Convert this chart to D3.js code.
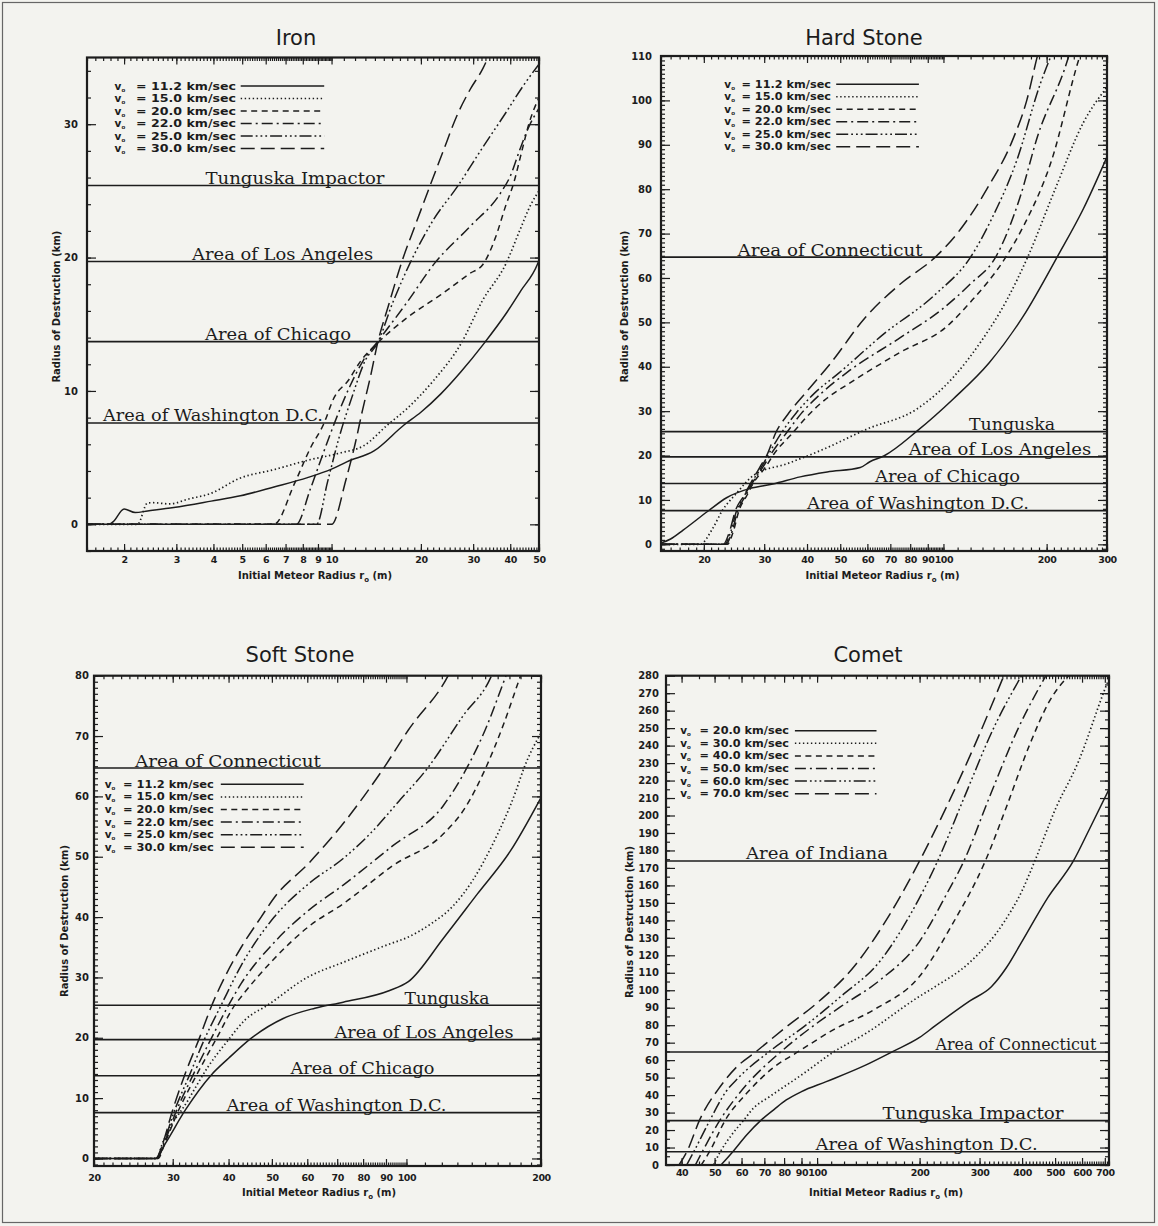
<!DOCTYPE html>
<html><head><meta charset="utf-8">
<script src="https://cdn.jsdelivr.net/npm/d3@7"></script>
<style>body{margin:0;background:#f3f3ef}svg{display:block}</style>
</head><body><svg id="c" width="1158" height="1226"></svg>
<script>
// ---------------- DATA ----------------
const stoneLegend = ["11.2","15.0","20.0","22.0","25.0","30.0"];
const cometLegend = ["20.0","30.0","40.0","50.0","60.0","70.0"];

const refTunguska = 25.4, refLosAngeles = 19.7, refChicago = 13.7, refWashington = 7.6, refConnecticut = 64.7, refIndiana = 174;

const ironRefNames = ["Tunguska Impactor","Area of Los Angeles","Area of Chicago","Area of Washington D.C."];
const ironRefValues = [refTunguska, refLosAngeles, refChicago, refWashington];
const hardRefNames = ["Area of Connecticut","Tunguska","Area of Los Angeles","Area of Chicago","Area of Washington D.C."];
const hardRefValues = [refConnecticut, refTunguska, refLosAngeles, refChicago, refWashington];
const softRefNames = hardRefNames;
const softRefValues = hardRefValues;
const cometRefNames = ["Area of Indiana","Area of Connecticut","Tunguska Impactor","Area of Washington D.C."];
const cometRefValues = [refIndiana, refConnecticut, refTunguska, refWashington];

const ironXTicks = [2,3,4,5,6,7,8,9,10,20,30,40,50];
const ironYTicks = [0,10,20,30];
const hardXTicks = [20,30,40,50,60,70,80,90,100,200,300];
const hardYTicks = [0,10,20,30,40,50,60,70,80,90,100,110];
const softXTicks = [20,30,40,50,60,70,80,90,100,200];
const softYTicks = [0,10,20,30,40,50,60,70,80];
const cometXTicks = [40,50,60,70,80,90,100,200,300,400,500,600,700];
const cometYTicks = [0,10,20,30,40,50,60,70,80,90,100,110,120,130,140,150,160,170,180,190,200,210,220,230,240,250,260,270,280];

// Iron  [initial radius m, destruction radius km]
const iron112 = [[1.5,0],[1.78,0],[1.84,0.2],[2.0,1.15],[2.18,0.88],[2.4,1.0],[2.94,1.26],[3.93,1.74],[4.93,2.14],[6.4,2.8],[8.3,3.5],[10,4.14],[11.3,4.7],[13.9,5.5],[17.5,7.43],[20,8.4],[23.3,9.76],[27.2,11.4],[32.6,13.55],[39,15.9],[43.4,17.5],[49.4,19.5],[50,19.8]];
const iron150 = [[1.5,0],[2.22,0],[2.4,1.6],[2.5,1.62],[2.85,1.53],[3.3,1.9],[3.9,2.3],[4.9,3.45],[6.4,4.1],[8.3,4.8],[10.7,5.35],[12.85,5.9],[15.4,7.43],[18,8.7],[22.1,10.8],[27.3,13.55],[32.3,16.8],[38.7,19.55],[43,22],[47,24],[50,25]];
const iron200 = [[1.5,0],[6.4,0],[7.5,3.05],[8.5,5.75],[9.4,7.5],[10.2,9.5],[11.4,10.8],[12.5,12.2],[14.3,13.6],[18,15.5],[23.3,17.2],[29.2,18.8],[32.4,19.5],[35.8,21.6],[38.5,23.8],[41.1,25.6],[43.9,28.1],[46.2,30],[50,32]];
const iron220 = [[1.5,0],[7.6,0],[8.5,2.7],[9.4,5.4],[10.4,8],[11.5,10.3],[12.8,12.3],[14.3,13.7],[17.9,16.6],[22.3,19.6],[29.2,22.3],[37,24.8],[40,26.1],[43.1,28.1],[46.2,29.8],[50,31.2]];
const iron250 = [[1.5,0],[8.9,0],[9.7,3.2],[10.6,6.5],[11.7,9.5],[13,12.3],[14.3,13.6],[16,16.5],[18.4,19.6],[22,22.8],[26.5,25.3],[32.4,28.3],[38.5,30.8],[44,32.8],[50,34.5]];
const iron300 = [[1.5,0],[10,0],[11.2,3.4],[12,6],[12.7,8.5],[13.5,11],[14.3,13.6],[15.6,16.5],[17.2,19.6],[19.2,22.5],[21.4,25.3],[23.8,28],[26.4,30.6],[29.3,32.6],[32.4,34.2],[34,35.2]];

// Hard stone
const hard112 = [[15,0.3],[16,1.2],[17.4,3.2],[20.5,7.4],[23.3,10.5],[27.3,12.6],[31.8,13.6],[38.2,15.2],[45.8,16.3],[57.2,17.3],[61,18.6],[67,19.9],[84,25.6],[107,32.8],[136,40.9],[171,51.4],[216,65.1],[256,75.6],[300,87.3]];
const hard150 = [[15,0],[19.5,0],[21.2,3.5],[22.6,7.5],[24.9,11.5],[28,15.6],[35.1,18.2],[44.3,21.3],[60,26],[83.3,30.4],[107,37.7],[129,45.8],[152,54.6],[177,65.1],[211,79.7],[256,95],[300,103]];
const hard200 = [[15,0],[23.4,0],[24.4,3],[25.3,7.5],[26.7,11],[28,14],[30.2,17.3],[32,20.3],[36.5,25.3],[40,28.8],[45,32.5],[52.7,36.1],[75,43.3],[102,49],[120,54.6],[152,64.7],[171,71.6],[206,86.1],[250,110],[255,112]];
const hard220 = [[15,0],[23.2,0],[24.2,3],[25.1,7.5],[26.5,11],[27.8,14],[29.8,17.5],[31.5,20.5],[35,25.3],[38.5,29.5],[44,34],[52.7,38.9],[75,46.6],[99.3,53],[120,58.7],[142,64.7],[167,78],[188,91.8],[232,110],[236,112]];
const hard250 = [[15,0],[23,0],[24,3],[24.9,7.5],[26.3,11],[27.6,14],[29.5,17.5],[31,20.5],[33.8,25.3],[37.2,29.6],[42,34],[49.4,38.5],[67,47.4],[94.7,56.3],[120,64.7],[138,73.2],[163,86.1],[192,103.9],[211,112]];
const hard300 = [[15,0],[22.8,0],[23.8,3],[24.7,7.5],[26.2,11],[27.5,14],[29.2,17.5],[30.5,20],[32.5,25.3],[35.1,29.2],[40,34.5],[47,40.9],[59,51],[75,58.7],[94.7,64.7],[111.7,70.8],[135,80.5],[159,91],[175,100],[188,110],[191,112]];

// Soft stone
const soft112 = [[20,0],[27.5,0],[28.9,2.5],[32,8],[36.6,13.85],[40,16.6],[44.9,19.9],[53,23.2],[62.4,24.9],[72.2,25.9],[91.4,27.8],[101,29.3],[121,36.5],[144,43.8],[171,51],[200,59.8]];
const soft150 = [[20,0],[27.7,0],[28.3,2],[32.5,9.7],[36,15.2],[39.9,19.6],[43.6,23],[48.9,25.4],[60,30],[72.2,32.5],[91.4,35.5],[101,36.7],[113,38.8],[127,41.8],[141,46.2],[156,52.1],[176,61],[183,64.6],[200,70.5]];
const soft200 = [[20,0],[27.8,0],[28.8,2.5],[30.8,7.7],[33.9,13.8],[37.6,19.9],[41.3,25.4],[42.7,26.8],[50.6,33.1],[60.6,38.5],[72.2,42.2],[93.1,48.5],[121,53.8],[135,58],[150,64.5],[165,72],[180,80],[183,81.5]];
const soft220 = [[20,0],[27.7,0],[28.7,2.5],[30.5,7.7],[33.3,13.8],[36.6,19.9],[40,25.4],[42.7,29],[50.6,35.8],[60.6,41.2],[72.2,45.3],[93.1,51.8],[121,58.5],[136,64.5],[150,71],[167,80],[170,81.5]];
const soft250 = [[20,0],[27.6,0],[28.6,2.5],[30.2,7.7],[32.7,13.8],[35.4,19.9],[38.5,25.4],[42.7,32],[50.6,40],[60.6,45.6],[72.2,49.7],[82.9,53.8],[96.2,59.2],[111,64.5],[134,73.4],[155,80],[158,81.5]];
const soft300 = [[20,0],[27.5,0],[28.5,2.5],[29.9,7.7],[31.9,13.8],[34.4,19.9],[36.7,25.4],[39.5,30.5],[42.7,35],[47.3,40],[50.6,43.2],[60.6,49],[72.2,55.5],[88.6,64.5],[101,71],[124,80],[127,81.5]];

// Comet
const comet200 = [[52.2,0],[56.9,8.2],[62,17],[68.6,25.8],[75,32],[81.2,37.2],[90,42],[106.4,47.7],[139.3,57.3],[166.6,64.9],[200,73],[222,79.6],[281,93.9],[325,102],[360,113],[396,126.5],[476,153],[566,174],[630,192],[720,215]];
const comet300 = [[49.6,0],[52.2,8.2],[56,17],[61,25.8],[65,32.5],[72.5,39.1],[91.5,52.5],[110.4,64],[139.3,75.4],[198,96],[222,102],[281,116],[354,139],[400,157],[436,174],[502,204],[586,231],[690,269],[725,280]];
const comet400 = [[45.7,0],[48.5,8.2],[53.8,25.8],[62.1,41],[74.7,56],[88.3,65],[111.5,77.3],[146.4,88.7],[200,108],[250,138],[312,174],[360,205],[420,240],[480,265],[561,282]];
const comet500 = [[43.9,0],[46.2,8.2],[51.9,25.8],[58,39],[62.1,46],[78.5,65],[95,78],[117.3,90.6],[153.5,106],[200,128],[240,155],[270,174],[320,210],[390,250],[476,282]];
const comet600 = [[41.4,0],[43.6,8.2],[48.5,25.8],[54,42],[58.8,50],[72.5,65],[91.5,79.2],[117.3,96.4],[153.5,117],[190,145],[226,174],[270,210],[330,250],[404,282]];
const comet700 = [[39.3,0],[41.6,8.2],[45.2,25.8],[51.9,44.8],[58,56],[66.3,65],[81.2,79],[99.8,92.6],[129,114],[163,143],[200,174],[240,205],[290,240],[357,282]];

// ---------------- STYLE / LAYOUT ----------------
const INK = "#1c1c1c";
const dashes = [null, "1.4,2.6", "6,4.5", "11,4,2,4", "12,3,1.8,3,1.8,3,1.8,3", "14,6"];

const panels = [
  {key:"iron", title:"Iron", titleX:296, titleY:45,
   left:87, right:539, top:57.5, bottom:551, xDomain:[1.5,50], yDomain:[-2,35],
   xTicks:ironXTicks, yTicks:ironYTicks,
   xMinor:d3.range(15,100).map(d=>d/10).concat(d3.range(10,51,1)),
   yMinor:d3.range(-2,35.1,2),
   series:[iron112,iron150,iron200,iron220,iron250,iron300], legend:stoneLegend,
   legV:114.6, legEq:136, legEqW:100, legLine:[240.7,324.2], legY0:86, legDY:12.5,
   refNames:ironRefNames, refValues:ironRefValues, refCx:[295,282.6,278,213], refW:[179,181,146,220],
   xPad:5, yPad:9, xTitleX:315, xTitleY:579, yTitleX:56.6, yTitleY:306.6},
  {key:"hard", title:"Hard Stone", titleX:864, titleY:45,
   left:661, right:1107, top:56, bottom:551, xDomain:[15,300], yDomain:[-1.5,110],
   xTicks:hardXTicks, yTicks:hardYTicks,
   xMinor:d3.range(15,100,1).concat(d3.range(100,301,10)),
   yMinor:d3.range(-1,110.1,1),
   series:[hard112,hard150,hard200,hard220,hard250,hard300], legend:stoneLegend,
   legV:724.3, legEq:741.5, legEqW:89.5, legLine:[836.2,918.9], legY0:84.3, legDY:12.5,
   refNames:hardRefNames, refValues:hardRefValues, refCx:[830,1012,1000,947.6,918], refW:[185,86,182.5,145,222],
   xPad:5, yPad:9, xTitleX:882.5, xTitleY:579, yTitleX:624.4, yTitleY:306.6},
  {key:"soft", title:"Soft Stone", titleX:300, titleY:662,
   left:94, right:541, top:675.7, bottom:1166, xDomain:[20,200], yDomain:[-1.25,80],
   xTicks:softXTicks, yTicks:softYTicks,
   xMinor:d3.range(20,100,1).concat(d3.range(100,201,10)),
   yMinor:d3.range(-1,80.1,1),
   series:[soft112,soft150,soft200,soft220,soft250,soft300], legend:stoneLegend,
   legV:104.7, legEq:122.9, legEqW:91, legLine:[220.8,303.7], legY0:784.3, legDY:12.6,
   refNames:softRefNames, refValues:softRefValues, refCx:[228,447,424,362.5,336.5], refW:[186,85,179,144,220],
   xPad:8, yPad:5, xTitleX:319, xTitleY:1195.5, yTitleX:64.9, yTitleY:921},
  {key:"comet", title:"Comet", titleX:868, titleY:662,
   left:666, right:1109, top:675.7, bottom:1165, xDomain:[36,720], yDomain:[0,280],
   xTicks:cometXTicks, yTicks:cometYTicks,
   xMinor:d3.range(40,100,5).concat(d3.range(100,721,10)),
   yMinor:d3.range(0,281,5),
   series:[comet200,comet300,comet400,comet500,comet600,comet700], legend:cometLegend,
   legV:680.2, legEq:699.5, legEqW:89.5, legLine:[794.9,876.5], legY0:730.7, legDY:12.6,
   refNames:cometRefNames, refValues:cometRefValues, refCx:[817,1016,973,926.6], refW:[142,161,181,222],
   xPad:4, yPad:7, xTitleX:886, xTitleY:1195.5, yTitleX:629.6, yTitleY:922}
];

// ---------------- DRAW ----------------
const svg = d3.select("#c");
svg.append("rect").attr("width",1158).attr("height",1226).attr("fill","#f3f3ef");
svg.append("rect").attr("x",2.5).attr("y",2.5).attr("width",1152).attr("height",1220)
  .attr("fill","none").attr("stroke","#666").attr("stroke-width",1.2);
const defs = svg.append("defs");

function styleAxis(sel, fontSize, spacing){
  sel.select(".domain").remove();
  sel.selectAll("line").attr("stroke",INK).attr("stroke-width",1.2);
  sel.selectAll("text").attr("fill",INK).attr("font-family","DejaVu Sans")
     .attr("font-weight","bold").attr("font-size",fontSize).attr("letter-spacing",spacing||0);
}

function drawPanel(p){
  const g = svg.append("g");
  const x = d3.scaleLog().domain(p.xDomain).range([p.left,p.right]);
  const y = d3.scaleLinear().domain(p.yDomain).range([p.bottom,p.top]);
  const cid = "clip-"+p.key;
  defs.append("clipPath").attr("id",cid).append("rect")
    .attr("x",p.left).attr("y",p.top).attr("width",p.right-p.left).attr("height",p.bottom-p.top);

  g.append("text").attr("x",p.titleX).attr("y",p.titleY).attr("text-anchor","middle")
    .attr("font-family","DejaVu Sans").attr("font-size",21).attr("fill",INK).text(p.title);

  // reference lines with labels
  p.refValues.forEach((v,i)=>{
    g.append("line").attr("x1",p.left).attr("x2",p.right).attr("y1",y(v)).attr("y2",y(v))
      .attr("stroke",INK).attr("stroke-width",1.6);
    g.append("text").attr("x",p.refCx[i]).attr("y",y(v)-1.5).attr("text-anchor","middle")
      .attr("textLength",p.refW[i]).attr("lengthAdjust","spacingAndGlyphs")
      .attr("font-family","DejaVu Serif").attr("font-size",17).attr("fill",INK).text(p.refNames[i]);
  });

  // curves
  const line = d3.line().x(d=>x(d[0])).y(d=>y(d[1])).curve(d3.curveMonotoneX);
  const cg = g.append("g").attr("clip-path",`url(#${cid})`);
  p.series.forEach((s,i)=>{
    cg.append("path").attr("d",line(s)).attr("fill","none").attr("stroke",INK)
      .attr("stroke-width",i===1?1.7:1.5).attr("stroke-dasharray",dashes[i]);
  });

  // axes (ticks inward on all four sides)
  const fmt = d3.format("d");
  g.append("g").attr("transform",`translate(0,${p.bottom})`)
    .call(d3.axisBottom(x).tickValues(p.xMinor).tickFormat("").tickSize(-3.5)).call(s=>styleAxis(s,10));
  g.append("g").attr("transform",`translate(0,${p.bottom})`)
    .call(d3.axisBottom(x).tickValues(p.xTicks).tickFormat(fmt).tickSize(-7).tickPadding(p.xPad)).call(s=>styleAxis(s,9.5,-0.4));
  g.append("g").attr("transform",`translate(0,${p.top})`)
    .call(d3.axisTop(x).tickValues(p.xMinor).tickFormat("").tickSize(-3.5)).call(s=>styleAxis(s,10));
  g.append("g").attr("transform",`translate(0,${p.top})`)
    .call(d3.axisTop(x).tickValues(p.xTicks).tickFormat("").tickSize(-7)).call(s=>styleAxis(s,10));
  g.append("g").attr("transform",`translate(${p.left},0)`)
    .call(d3.axisLeft(y).tickValues(p.yMinor).tickFormat("").tickSize(-4)).call(s=>styleAxis(s,10));
  g.append("g").attr("transform",`translate(${p.left},0)`)
    .call(d3.axisLeft(y).tickValues(p.yTicks).tickFormat(fmt).tickSize(-9).tickPadding(p.yPad)).call(s=>styleAxis(s,10));
  g.append("g").attr("transform",`translate(${p.right},0)`)
    .call(d3.axisRight(y).tickValues(p.yMinor).tickFormat("").tickSize(-4)).call(s=>styleAxis(s,10));
  g.append("g").attr("transform",`translate(${p.right},0)`)
    .call(d3.axisRight(y).tickValues(p.yTicks).tickFormat("").tickSize(-9)).call(s=>styleAxis(s,10));

  g.append("rect").attr("x",p.left).attr("y",p.top).attr("width",p.right-p.left).attr("height",p.bottom-p.top)
    .attr("fill","none").attr("stroke",INK).attr("stroke-width",2.2);

  // axis titles
  const xt = g.append("text").attr("x",p.xTitleX).attr("y",p.xTitleY).attr("text-anchor","middle")
    .attr("font-family","DejaVu Sans").attr("font-weight","bold").attr("font-size",10).attr("fill",INK);
  xt.append("tspan").text("Initial Meteor Radius r");
  xt.append("tspan").attr("font-size",7).attr("dy",3).text("o");
  xt.append("tspan").attr("dy",-3).text(" (m)");
  g.append("text").attr("transform",`translate(${p.yTitleX+3.5},${p.yTitleY}) rotate(-90)`)
    .attr("text-anchor","middle").attr("font-family","DejaVu Sans").attr("font-weight","bold")
    .attr("font-size",10).attr("fill",INK).text("Radius of Destruction (km)");

  // legend: one text element per row
  p.legend.forEach((v,i)=>{
    const ly = p.legY0 + i*p.legDY;
    const t = g.append("text").attr("x",p.legV).attr("y",ly+3.5).attr("font-family","DejaVu Sans")
      .attr("font-weight","bold").attr("font-size",10.5).attr("fill",INK);
    t.append("tspan").text("v");
    t.append("tspan").attr("font-size",5.5).attr("dy",2).text("o");
    t.append("tspan").attr("x",p.legEq).attr("y",ly+3.5)
      .attr("textLength",p.legEqW).attr("lengthAdjust","spacingAndGlyphs").text(`= ${v} km/sec`);
    g.append("line").attr("x1",p.legLine[0]).attr("x2",p.legLine[1]).attr("y1",ly).attr("y2",ly)
      .attr("stroke",INK).attr("stroke-width",1.5).attr("stroke-dasharray",dashes[i]);
  });
}
panels.forEach(drawPanel);
</script>
</body></html>
